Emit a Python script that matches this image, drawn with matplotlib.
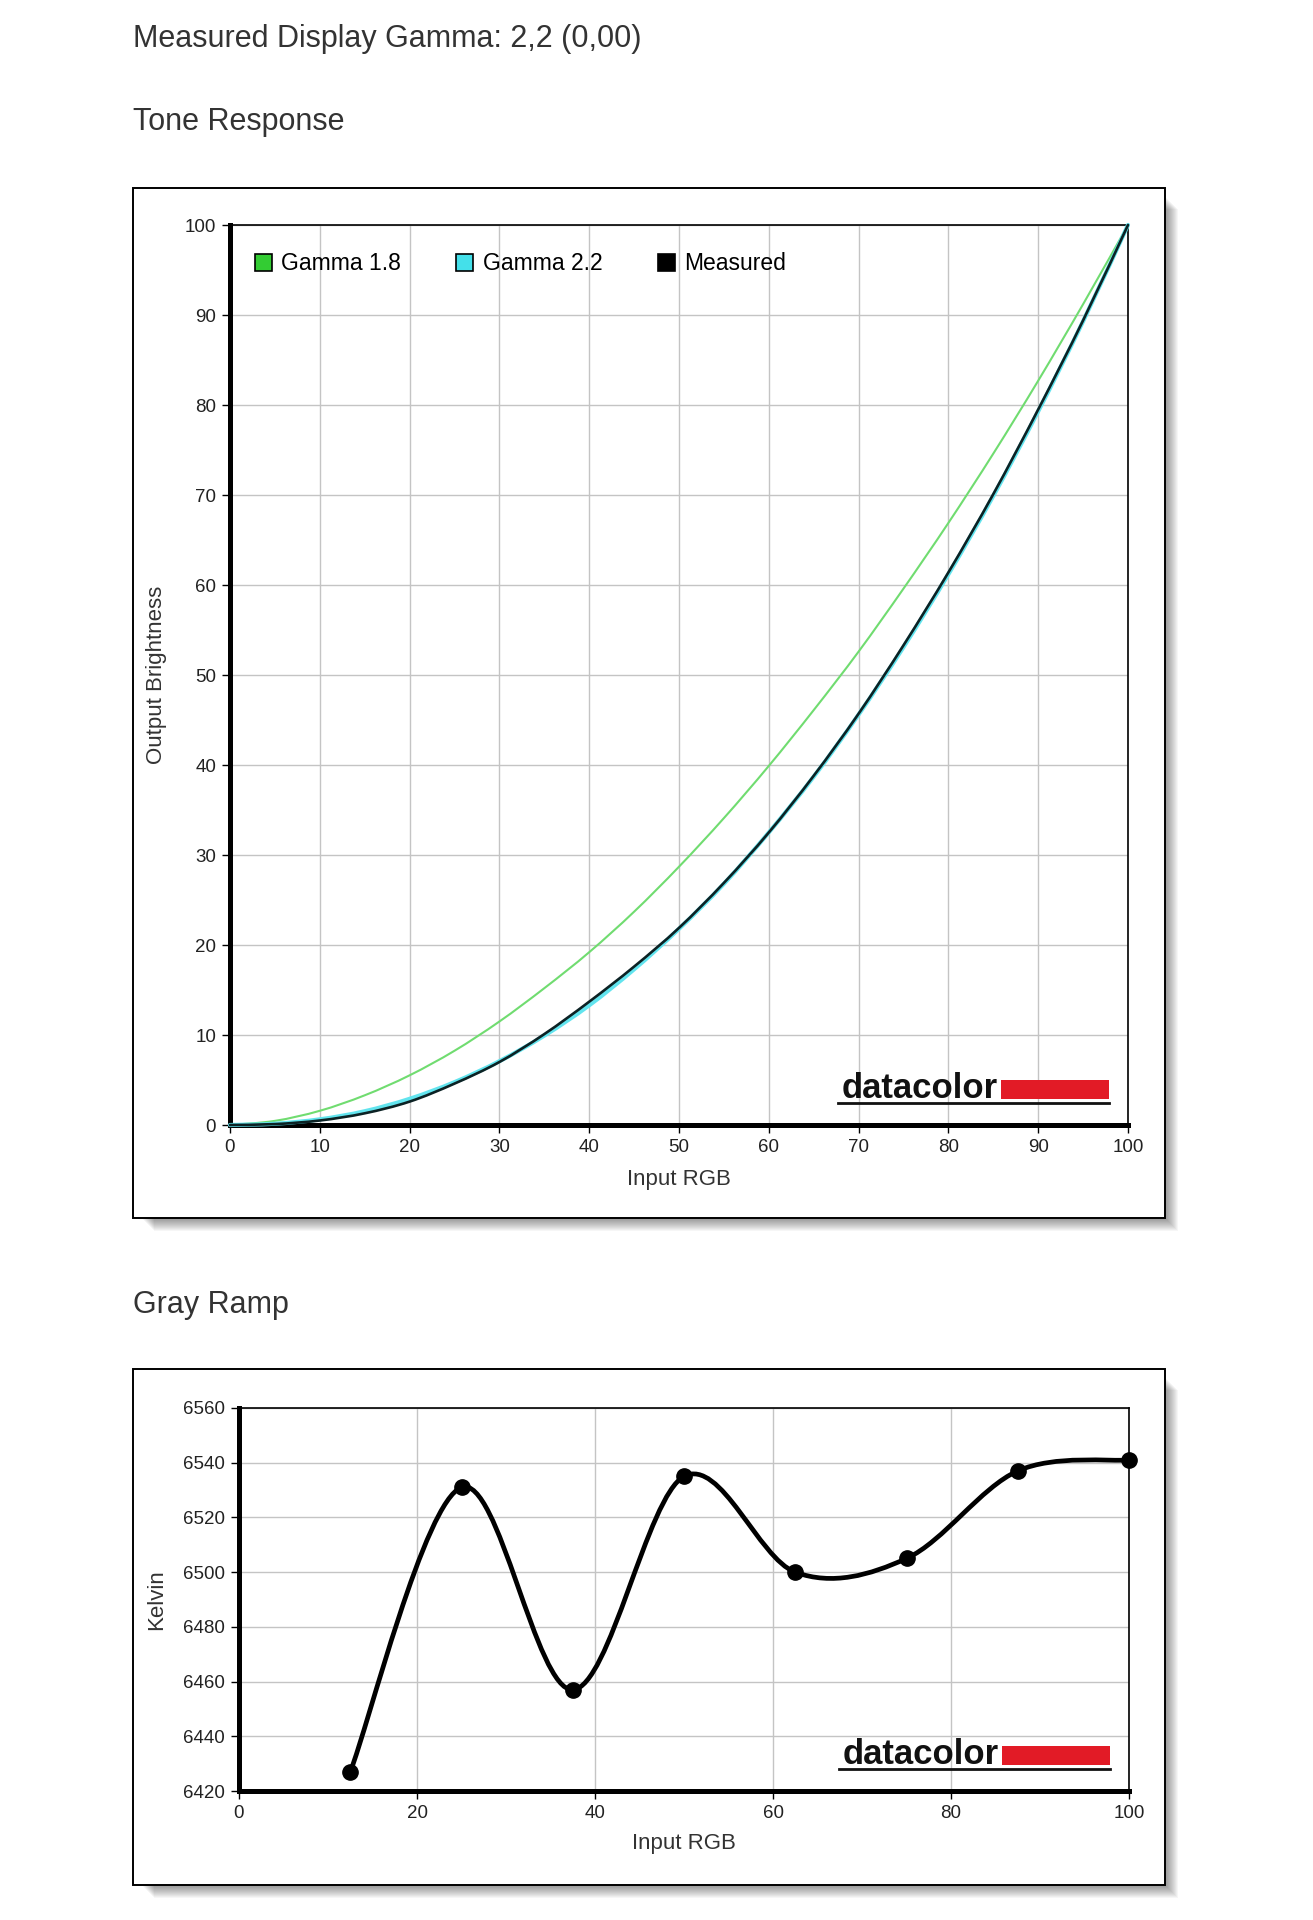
"""
Display calibration report: tone response and gray ramp charts.
"""
import matplotlib
matplotlib.use("Agg")
import matplotlib.pyplot as plt
from matplotlib.patches import Rectangle, Patch, PathPatch
from matplotlib.path import Path
from matplotlib.lines import Line2D

plt.rcParams['font.family'] = ['Liberation Sans', 'DejaVu Sans']

W, H = 1313, 1920

# ── Tone response (input RGB %, output brightness %) ──
tone_x = [0, 5, 10, 15, 20, 25, 30, 35, 40, 45, 50, 55, 60, 65, 70, 75, 80, 85, 90, 95, 100]
gamma18 = [0, 0.46, 1.58, 3.30, 5.52, 8.25, 11.5, 15.2, 19.2, 23.7, 28.7,
           34.1, 39.9, 46.1, 52.6, 59.6, 66.9, 74.6, 82.7, 91.2, 100]
gamma22 = [0, 0.14, 0.63, 1.53, 2.91, 4.76, 7.09, 9.93, 13.3, 17.3, 21.8,
           26.8, 32.5, 38.7, 45.6, 53.1, 61.2, 69.9, 79.3, 89.3, 100]
measured = [0, 0.1, 0.5, 1.3, 2.6, 4.6, 7.0, 10.1, 13.7, 17.6, 21.9,
            26.9, 32.5, 38.8, 45.7, 53.3, 61.4, 70.1, 79.5, 89.4, 100]
tone_ticks = [0, 10, 20, 30, 40, 50, 60, 70, 80, 90, 100]

# ── Gray ramp (input RGB %, colour temperature K) ──
ramp_x = [12.5, 25, 37.5, 50, 62.5, 75, 87.5, 100]
ramp_kelvin = [6427, 6531, 6457, 6535, 6500, 6505, 6537, 6541]
ramp_xticks = [0, 20, 40, 60, 80, 100]
ramp_yticks = [6420, 6440, 6460, 6480, 6500, 6520, 6540, 6560]

GREEN = '#70dc70'
CYAN = '#62e4ee'
DARK = '#0c2224'
TEXT = '#333333'
GRID = '#c4c4c4'
RED = '#e21b26'


def fig_box(x0, y0, x1, y1):
    """Pixel box measured from top-left -> figure fraction [l, b, w, h]."""
    return [x0 / W, 1 - y1 / H, (x1 - x0) / W, (y1 - y0) / H]


def smooth_path(xs, ys):
    """Catmull-Rom curve through the points, as cubic bezier path."""
    pts = list(zip(xs, ys))
    n = len(pts)
    verts = [pts[0]]
    codes = [Path.MOVETO]
    for i in range(n - 1):
        p0 = pts[max(i - 1, 0)]
        p1 = pts[i]
        p2 = pts[i + 1]
        p3 = pts[min(i + 2, n - 1)]
        c1 = (p1[0] + (p2[0] - p0[0]) / 6, p1[1] + (p2[1] - p0[1]) / 6)
        c2 = (p2[0] - (p3[0] - p1[0]) / 6, p2[1] - (p3[1] - p1[1]) / 6)
        verts += [c1, c2, p2]
        codes += [Path.CURVE4] * 3
    return Path(verts, codes)


def draw_curve(ax, xs, ys, color, lw, z):
    ax.add_patch(PathPatch(smooth_path(xs, ys), facecolor='none', edgecolor=color,
                           lw=lw, zorder=z, clip_on=False, capstyle='round'))


def draw_frame(fig, x0, y0, x1, y1):
    # soft drop shadow, bottom-right
    for k in range(1, 14):
        l, b, w, h = fig_box(x0 + 8 + k, y0 + 8 + k, x1 + k, y1 + k)
        fig.add_artist(Rectangle((l, b), w, h, transform=fig.transFigure,
                                 facecolor='black', edgecolor='none',
                                 alpha=0.035, zorder=-3))
    l, b, w, h = fig_box(x0, y0, x1, y1)
    fig.add_artist(Rectangle((l, b), w, h, transform=fig.transFigure,
                             facecolor='white', edgecolor='black', lw=1.4, zorder=-2))


def draw_logo(fig, right, bottom):
    """datacolor mark, placed by pixel offsets from the axes' bottom-right corner."""
    fig.text((right - 130) / W, 1 - (bottom - 27) / H, 'datacolor', ha='right',
             va='baseline', fontsize=25, fontweight='bold', color='#111111', zorder=6)
    l, b, w, h = fig_box(right - 127, bottom - 45, right - 19, bottom - 26)
    fig.add_artist(Rectangle((l, b), w, h, transform=fig.transFigure,
                             facecolor=RED, edgecolor='none', zorder=6))
    y = 1 - (bottom - 22) / H
    fig.add_artist(Line2D([(right - 290) / W, (right - 19) / W], [y, y],
                          transform=fig.transFigure, color='#111111', lw=2, zorder=6))


def style_axes(ax, w_px, h_px, ylab_px, xlab_px):
    ax.set_facecolor('white')
    ax.grid(True, color=GRID, lw=1.0)
    ax.set_axisbelow(True)
    for side in ('left', 'bottom'):
        ax.spines[side].set_linewidth(3.6)
    for side in ('top', 'right'):
        ax.spines[side].set_linewidth(1.2)
    ax.tick_params(direction='out', length=6, width=1, labelsize=13.5,
                   labelcolor='#222222', pad=4)
    ax.yaxis.label.set_va('center')
    ax.xaxis.label.set_va('center')
    ax.yaxis.set_label_coords(-ylab_px / w_px, 0.5)
    ax.xaxis.set_label_coords(0.5, -xlab_px / h_px)


fig = plt.figure(figsize=(W / 100, H / 100), dpi=100)
fig.patch.set_facecolor('white')

fig.text(133 / W, 1 - 39 / H, 'Measured Display Gamma: 2,2 (0,00)', fontsize=22,
         color=TEXT, va='center')
fig.text(133 / W, 1 - 122 / H, 'Tone Response', fontsize=22, color=TEXT, va='center')
fig.text(133 / W, 1 - 1305 / H, 'Gray Ramp', fontsize=22, color=TEXT, va='center')

# ── Chart 1: Tone Response ──
draw_frame(fig, 133, 188, 1165, 1218)
ax1 = fig.add_axes(fig_box(230, 225, 1128, 1125))
draw_curve(ax1, tone_x, gamma18, GREEN, 1.5, 3)
draw_curve(ax1, tone_x, gamma22, CYAN, 3.0, 4)
draw_curve(ax1, tone_x, measured, DARK, 1.9, 5)
ax1.set_xlim(0, 100)
ax1.set_ylim(0, 100)
ax1.set_xticks(tone_ticks)
ax1.set_yticks(tone_ticks)
ax1.set_xlabel('Input RGB', fontsize=16, color=TEXT)
ax1.set_ylabel('Output Brightness', fontsize=16, color=TEXT)
style_axes(ax1, 898, 900, 73, 55)

handles = [Patch(facecolor='#33cc33', edgecolor='black', lw=1.2, label='Gamma 1.8'),
           Patch(facecolor='#44e0ea', edgecolor='black', lw=1.2, label='Gamma 2.2'),
           Patch(facecolor='black', edgecolor='black', lw=1.2, label='Measured')]
ax1.legend(handles=handles, loc='center left', bbox_to_anchor=(25 / 898, 1 - 39 / 900),
           ncol=3, frameon=False, fontsize=16.5, handlelength=0.74, handleheight=0.74,
           handletextpad=0.4, columnspacing=2.42, borderpad=0, borderaxespad=0)
draw_logo(fig, 1128, 1125)

# ── Chart 2: Gray Ramp ──
draw_frame(fig, 133, 1369, 1165, 1885)
ax2 = fig.add_axes(fig_box(239, 1408, 1129, 1791))
draw_curve(ax2, ramp_x, ramp_kelvin, 'black', 3.4, 4)
ax2.plot(ramp_x, ramp_kelvin, 'o', color='black', markersize=11, zorder=5, clip_on=False)
ax2.set_xlim(0, 100)
ax2.set_ylim(6420, 6560)
ax2.set_xticks(ramp_xticks)
ax2.set_yticks(ramp_yticks)
ax2.set_xlabel('Input RGB', fontsize=16, color=TEXT)
ax2.set_ylabel('Kelvin', fontsize=16, color=TEXT)
style_axes(ax2, 890, 383, 82, 53)
draw_logo(fig, 1129, 1791)

fig.savefig('out.png', dpi=100, facecolor='white')
plt.close(fig)
